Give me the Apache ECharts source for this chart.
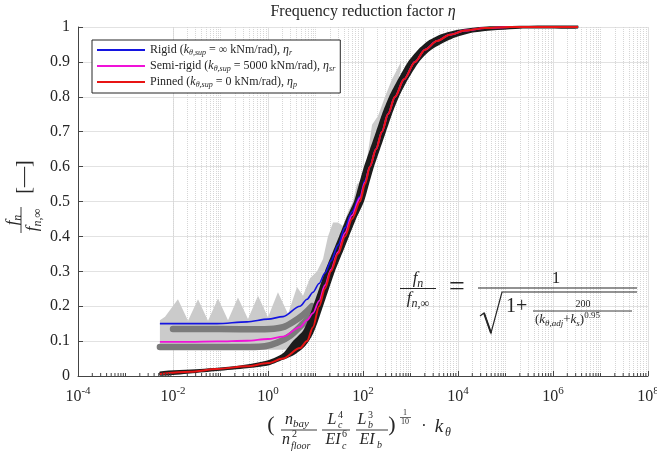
<!DOCTYPE html>
<html>
<head>
<meta charset="utf-8">
<script src="https://cdn.jsdelivr.net/npm/echarts@6/dist/echarts.min.js"></script>
<style>
html, body { margin: 0; padding: 0; background: #fff; }
#chart { width: 657px; height: 456px; }
</style>
</head>
<body>
<div id="chart"></div>
<script>
// fitted curves
const kCurve = [0.0053, 0.0228, 0.0844, 0.361, 1, 2.07, 4.72, 6.63, 8.85, 11.9, 15.8, 21.2, 29.8, 41.8, 58.7, 86.5, 110, 140, 188, 251, 336, 472, 730, 1245, 2020, 3610, 6790, 14000, 37000, 124000, 3.36e6];
const etaRigid = [0.15, 0.15, 0.15, 0.155, 0.163, 0.17, 0.2, 0.22, 0.24, 0.265, 0.295, 0.33, 0.375, 0.425, 0.47, 0.515, 0.56, 0.60, 0.65, 0.70, 0.75, 0.80, 0.85, 0.90, 0.935, 0.96, 0.978, 0.99, 0.997, 1, 1];
const etaSemi = [0.098, 0.098, 0.099, 0.101, 0.106, 0.113, 0.14, 0.16, 0.18, 0.215, 0.26, 0.305, 0.355, 0.41, 0.46, 0.51, 0.555, 0.60, 0.65, 0.70, 0.75, 0.80, 0.85, 0.90, 0.935, 0.96, 0.978, 0.99, 0.997, 1, 1];
const etaPinned = [0.006, 0.012, 0.02, 0.028, 0.037, 0.05, 0.08, 0.10, 0.14, 0.2, 0.25, 0.30, 0.35, 0.40, 0.45, 0.50, 0.55, 0.60, 0.65, 0.70, 0.75, 0.80, 0.85, 0.90, 0.935, 0.96, 0.978, 0.99, 0.997, 1, 1];

// dark grey bead rows (numerical results)
const kBeadUpper = [0.01, 0.037, 0.258, 1.1, 2.07, 3.36, 5.46, 8.43];
const beadUpper = [0.135, 0.135, 0.134, 0.135, 0.14, 0.155, 0.175, 0.2];
const kBeadLower = [0.0053, 0.037, 0.418, 0.865, 1.55, 2.9, 5.46, 8.85];
const beadLower = [0.083, 0.083, 0.083, 0.085, 0.095, 0.115, 0.15, 0.18];

// light grey cloud outline
const kLightTop = [0.0053, 0.0068, 0.0127, 0.0207, 0.0336, 0.0546, 0.0886, 0.144, 0.233, 0.379, 0.616, 1, 1.62, 2.64, 4.08, 5.46, 7.66, 10.8, 14.4, 18.3, 23.4, 29.8, 37.9, 48.3, 61.5, 74.8, 95.3, 121, 155, 207, 291, 408, 631];
const lightTop = [0.16, 0.17, 0.22, 0.158, 0.22, 0.158, 0.222, 0.16, 0.225, 0.163, 0.23, 0.168, 0.24, 0.178, 0.255, 0.23, 0.28, 0.30, 0.335, 0.40, 0.44, 0.44, 0.43, 0.47, 0.50, 0.55, 0.56, 0.62, 0.72, 0.745, 0.80, 0.85, 0.90];
const kLightBottom = [631, 408, 228, 140, 86.5, 58.7, 41.8, 29.8, 21.2, 15.8, 11.9, 8.85, 6.63, 4.72, 2.07, 0.0053];
const lightBottom = [0.88, 0.78, 0.69, 0.60, 0.50, 0.45, 0.40, 0.35, 0.30, 0.25, 0.20, 0.14, 0.10, 0.08, 0.075, 0.075];

// black cloud outline
const kBlackTop = [0.0053, 0.037, 0.258, 1, 2.07, 3.36, 5.46, 6.95, 8.85, 11.9, 15.8, 22.2, 31.3, 43.9, 64.7, 82.4, 105, 140, 188, 251, 353, 546, 885, 1440, 2335, 4600, 11000, 47200, 3.36e6];
const blackTop = [0.013, 0.02, 0.03, 0.045, 0.065, 0.10, 0.13, 0.16, 0.20, 0.25, 0.30, 0.35, 0.40, 0.45, 0.50, 0.55, 0.60, 0.65, 0.70, 0.75, 0.80, 0.85, 0.90, 0.935, 0.96, 0.98, 0.993, 1.002, 1.004];
const kBlackBottom = [3.36e6, 201800, 22800, 8650, 4180, 2450, 1510, 885, 573, 408, 305, 228, 171, 134, 105, 71.3, 50.7, 36.1, 25.7, 19.2, 14.4, 10.8, 8.43, 6.01, 3.52, 1.79, 1, 0.361, 0.0844, 0.0228, 0.0053];
const blackBottom = [0.996, 0.995, 0.985, 0.97, 0.95, 0.93, 0.90, 0.85, 0.80, 0.75, 0.70, 0.65, 0.60, 0.55, 0.50, 0.45, 0.40, 0.35, 0.30, 0.25, 0.20, 0.15, 0.115, 0.085, 0.06, 0.043, 0.03, 0.022, 0.014, 0.007, 0.001];

const legendNames = ['Rigid', 'Semi-rigid', 'Pinned'];
const legendText = {
  'Rigid': '{t|Rigid (}{i|k}{s|θ,sup}{t| = ∞ kNm/rad), }{i|η}{s|r}',
  'Semi-rigid': '{t|Semi-rigid (}{i|k}{s|θ,sup}{t| = 5000 kNm/rad), }{i|η}{s|sr}',
  'Pinned': '{t|Pinned (}{i|k}{s|θ,sup}{t| = 0 kNm/rad), }{i|η}{s|p}'
};

const SERIF = '"Liberation Serif", "DejaVu Serif", serif';
const INK = '#262626';

function zip(xs, ys) { return xs.map((x, i) => [x, ys[i]]); }

// minor grid / tick positions 2..9 x 10^k and odd decades
const minorGrid = [];
for (let e = -4; e < 8; e++) {
  for (let m = 1; m <= 9; m++) {
    if (m === 1 && e % 2 === 0) continue;
    minorGrid.push(m * Math.pow(10, e));
  }
}

function band(kA, vA, kB, vB, color, smooth) {
  return function (params, api) {
    const pts = [];
    kA.forEach((k, i) => pts.push(api.coord([k, vA[i]])));
    kB.forEach((k, i) => pts.push(api.coord([k, vB[i]])));
    return { type: 'polygon', shape: { points: pts, smooth: smooth || 0 }, style: { fill: color } };
  };
}

function gRich(size) {
  const sub = Math.round(size * 0.68);
  return {
    t: { fontSize: size, fontFamily: SERIF, fill: INK },
    i: { fontSize: size, fontFamily: SERIF, fontStyle: 'italic', fill: INK },
    s: { fontSize: sub, fontFamily: SERIF, fontStyle: 'italic', fill: INK, padding: [Math.round(size * 0.55), 0, 0, 0] },
    p: { fontSize: sub, fontFamily: SERIF, fill: INK, padding: [0, 0, Math.round(size * 0.6), 0] }
  };
}
function gtext(x, y, text, size, align, italic) {
  return {
    type: 'text', x: x, y: y, silent: true, z: 100,
    style: {
      text: text, rich: gRich(size),
      font: (italic ? 'italic ' : '') + size + 'px ' + SERIF,
      fill: INK, align: align || 'center', verticalAlign: 'middle'
    }
  };
}
function gline(x1, y1, x2, y2, w) {
  return { type: 'line', silent: true, z: 100, shape: { x1: x1, y1: y1, x2: x2, y2: y2 }, style: { stroke: INK, lineWidth: w } };
}

const graphics = [
  gtext(363, 12, 'Frequency reduction factor {i|η}', 16),
  // y axis name, rotated
  {
    type: 'group', x: 25, y: 200, rotation: Math.PI / 2, silent: true,
    children: [
      gtext(-20, -12, '{i|f}{s|n}', 17),
      gline(-33, -4, -7, -4, 0.9),
      gtext(-20, 8, '{i|f}{s|n,∞}', 17),
      gtext(23, 0, '[—]', 20)
    ]
  },
  // x axis name
  gtext(271, 425, '(', 22),
  gtext(297, 420, '{i|n}{s|bay}', 16),
  gline(281, 430, 317, 430, 0.9),
  gtext(286, 440, 'n', 16, 'center', true),
  gtext(292, 434, '2', 10, 'left'),
  gtext(291, 446, 'floor', 10, 'left', true),
  gtext(332, 420, 'L', 16, 'center', true),
  gtext(338, 415, '4', 10, 'left'),
  gtext(338, 425, 'c', 10, 'left', true),
  gline(322, 430, 350, 430, 0.9),
  gtext(333, 440, 'EI', 16, 'center', true),
  gtext(342, 434, '6', 10, 'left'),
  gtext(342, 446, 'c', 10, 'left', true),
  gtext(362, 420, 'L', 16, 'center', true),
  gtext(368, 415, '3', 10, 'left'),
  gtext(368, 425, 'b', 10, 'left', true),
  gline(356, 430, 388, 430, 0.9),
  gtext(367, 440, 'EI', 16, 'center', true),
  gtext(377, 445, 'b', 10, 'left', true),
  gtext(392, 425, ')', 22),
  gtext(405, 413, '1', 8),
  gline(400, 417.5, 411, 417.5, 0.7),
  gtext(405, 422, '10', 8),
  gtext(424, 427, '·', 16),
  gtext(439, 427, 'k', 19, 'center', true),
  gtext(445, 433, 'θ', 12, 'left', true),
  // formula
  gtext(418, 279, '{i|f}{s|n}', 17),
  gline(400, 288.5, 436, 288.5, 1),
  gtext(418, 299, '{i|f}{s|n,∞}', 17),
  gtext(457, 288, '=', 28),
  gtext(556, 279, '1', 17),
  gline(478, 288, 637, 288, 1.2),
  { type: 'polyline', silent: true, z: 100, shape: { points: [[480, 316], [484, 313], [491, 333], [502, 292], [637, 292]] }, style: { stroke: INK, lineWidth: 1.2, fill: null } },
  gline(484, 313, 491, 333, 2),
  gtext(506, 307, '1+', 20, 'left'),
  gtext(583, 304, '200', 10),
  gline(533, 311, 632, 311, 0.9),
  gtext(535, 320, '{t|(}{i|k}{s|θ,adj}{t|+}{i|k}{s|s}{t|)}{p|0.95}', 13, 'left')
];

const chart = echarts.init(document.getElementById('chart'));
chart.setOption({
  animation: false,
  backgroundColor: '#fff',
  grid: { left: 78, right: 9, top: 27, bottom: 80, outerBoundsMode: 'none' },
  xAxis: {
    type: 'log', logBase: 10, min: 1e-4, max: 1e8, interval: 2,
    axisLine: { show: true, lineStyle: { color: '#444', width: 1 } },
    axisTick: { show: true, inside: true, length: 5, lineStyle: { color: '#444' } },
    splitLine: { show: true, lineStyle: { color: '#e0e0e0', width: 1 } },
    axisLabel: {
      margin: 10, showMinLabel: true, showMaxLabel: true,
      formatter: v => '{b|10}{e|' + Math.round(Math.log10(v)) + '}',
      rich: {
        b: { fontSize: 16, fontFamily: SERIF, color: INK },
        e: { fontSize: 11, fontFamily: SERIF, color: INK, padding: [0, 0, 10, 0] }
      }
    }
  },
  yAxis: {
    type: 'value', min: 0, max: 1, interval: 0.1,
    axisLine: { show: true, lineStyle: { color: '#444', width: 1 } },
    axisTick: { show: true, inside: true, length: 5, lineStyle: { color: '#444' } },
    splitLine: { show: true, lineStyle: { color: '#e2e2e2', width: 1 } },
    axisLabel: {
      margin: 8, fontSize: 16, fontFamily: SERIF, color: INK,
      formatter: v => (v === 0 ? '0' : v === 1 ? '1' : v.toFixed(1))
    }
  },
  legend: {
    data: legendNames, orient: 'vertical', left: 92, top: 40,
    icon: 'rect', itemWidth: 48, itemHeight: 2, itemGap: 2,
    padding: [3, 5, 4, 5],
    borderColor: INK, borderWidth: 1, backgroundColor: '#fff',
    formatter: name => legendText[name],
    textStyle: {
      fontFamily: SERIF, fontSize: 12, color: INK,
      rich: {
        t: { fontSize: 12, fontFamily: SERIF, color: INK, lineHeight: 15 },
        i: { fontSize: 12, fontFamily: SERIF, fontStyle: 'italic', color: INK, lineHeight: 15 },
        s: { fontSize: 8, fontFamily: SERIF, fontStyle: 'italic', color: INK, lineHeight: 9, padding: [6, 0, 0, 0] }
      }
    }
  },
  graphic: graphics,
  series: [
    {
      type: 'line', name: 'grid', data: [[1, -1]], symbol: 'none', z: 1, silent: true,
      lineStyle: { opacity: 0 },
      markLine: {
        silent: true, z: 1, symbol: ['none', 'none'], label: { show: false },
        lineStyle: { type: 'dotted', color: '#d6d6d6', width: 1 },
        data: minorGrid.map(v => ({ xAxis: v }))
      }
    },
    {
      // small inside minor ticks on the bottom axis
      type: 'custom', name: 'minorTicks', z: 20, silent: true,
      data: minorGrid.map(v => [v, 0]),
      renderItem: function (params, api) {
        const p = api.coord([api.value(0), 0]);
        return { type: 'line', shape: { x1: p[0], y1: p[1], x2: p[0], y2: p[1] - 3 }, style: { stroke: '#444', lineWidth: 1 } };
      }
    },
    {
      type: 'custom', name: 'light', z: 10, silent: true, data: [[1, 0.5]],
      renderItem: band(kLightTop, lightTop, kLightBottom, lightBottom, '#cbcbcb', 0)
    },
    {
      type: 'line', name: 'beadUpper', data: zip(kBeadUpper, beadUpper), symbol: 'none', smooth: 0.3, z: 11,
      lineStyle: { color: '#7b7b7b', width: 6.5, cap: 'round' }
    },
    {
      type: 'line', name: 'beadLower', data: zip(kBeadLower, beadLower), symbol: 'none', smooth: 0.3, z: 11,
      lineStyle: { color: '#7b7b7b', width: 6.5, cap: 'round' }
    },
    {
      type: 'custom', name: 'black', z: 12, silent: true, data: [[1, 0.5]],
      renderItem: band(kBlackTop, blackTop, kBlackBottom, blackBottom, '#1c1c1c', 0.25)
    },
    {
      type: 'line', name: 'Rigid', data: zip(kCurve, etaRigid), symbol: 'none', smooth: 0.3, smoothMonotone: 'x', z: 13,
      lineStyle: { color: '#1414e0', width: 1.6 }, itemStyle: { color: '#1414e0' }
    },
    {
      type: 'line', name: 'Semi-rigid', data: zip(kCurve, etaSemi), symbol: 'none', smooth: 0.3, smoothMonotone: 'x', z: 14,
      lineStyle: { color: '#f012d8', width: 1.8 }, itemStyle: { color: '#f012d8' }
    },
    {
      type: 'line', name: 'Pinned', data: zip(kCurve, etaPinned), symbol: 'none', smooth: 0.3, smoothMonotone: 'x', z: 15,
      lineStyle: { color: '#e81414', width: 2 }, itemStyle: { color: '#e81414' }
    }
  ]
});
</script>
</body>
</html>
